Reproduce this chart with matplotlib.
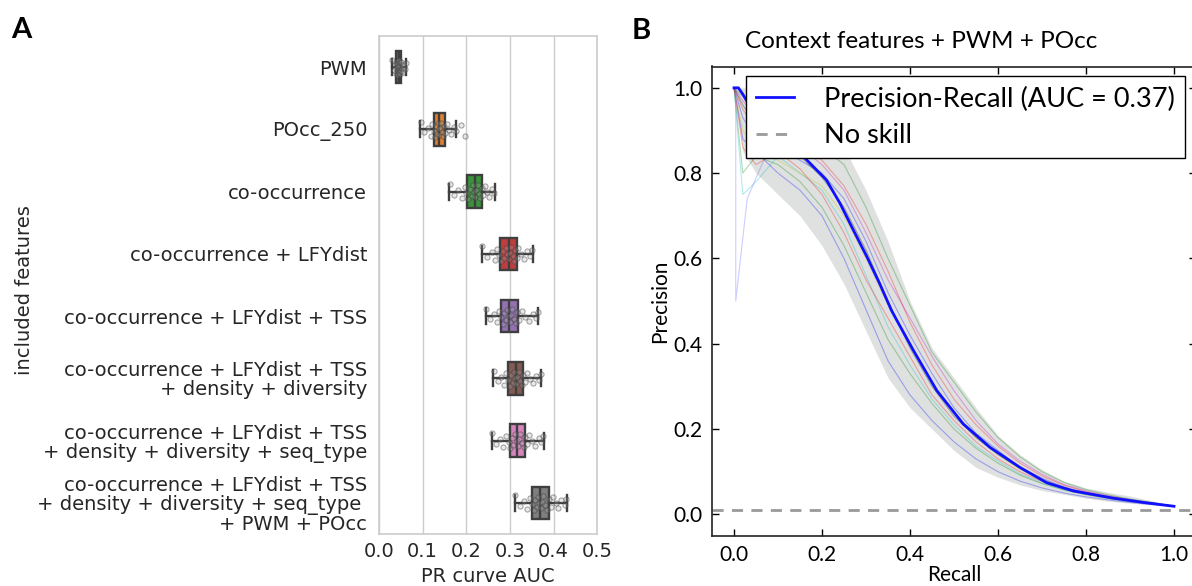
import matplotlib
matplotlib.use('Agg')
import matplotlib.pyplot as plt
import numpy as np

# ---- Panel A data: PR AUC per feature set ----
features = [
    'PWM',
    'POcc_250',
    'co-occurrence',
    'co-occurrence + LFYdist',
    'co-occurrence + LFYdist + TSS',
    'co-occurrence + LFYdist + TSS\n+ density + diversity',
    'co-occurrence + LFYdist + TSS\n+ density + diversity + seq_type',
    'co-occurrence + LFYdist + TSS\n+ density + diversity + seq_type \n+ PWM + POcc',
]
box_colors = ['#3274a1', '#e1812c', '#3a923a', '#c03d3e',
              '#9372b2', '#845b53', '#d684bd', '#7f7f7f']

whis_lo = [0.030, 0.095, 0.161, 0.236, 0.245, 0.262, 0.258, 0.311]
q1      = [0.038, 0.125, 0.202, 0.278, 0.280, 0.296, 0.301, 0.351]
median  = [0.045, 0.138, 0.219, 0.297, 0.298, 0.313, 0.317, 0.369]
q3      = [0.051, 0.151, 0.237, 0.315, 0.318, 0.330, 0.334, 0.390]
whis_hi = [0.062, 0.177, 0.265, 0.352, 0.365, 0.372, 0.377, 0.430]

auc_pwm = [0.030, 0.034, 0.036, 0.038, 0.039, 0.040, 0.041, 0.042, 0.043, 0.044, 0.044, 0.045,
           0.045, 0.046, 0.047, 0.048, 0.049, 0.050, 0.051, 0.052, 0.054, 0.056, 0.059, 0.062]
auc_pocc = [0.096, 0.104, 0.112, 0.118, 0.122, 0.125, 0.128, 0.130, 0.133, 0.135, 0.137, 0.138,
            0.140, 0.142, 0.144, 0.147, 0.149, 0.151, 0.155, 0.160, 0.166, 0.172, 0.177, 0.187, 0.197]
auc_cooc = [0.162, 0.172, 0.182, 0.190, 0.196, 0.200, 0.204, 0.208, 0.212, 0.215, 0.218, 0.220,
            0.222, 0.226, 0.229, 0.232, 0.235, 0.238, 0.242, 0.247, 0.252, 0.258, 0.264]
auc_lfy = [0.237, 0.248, 0.258, 0.265, 0.270, 0.275, 0.279, 0.283, 0.287, 0.291, 0.294, 0.297,
           0.300, 0.303, 0.306, 0.309, 0.312, 0.315, 0.319, 0.325, 0.332, 0.340, 0.346, 0.351]
auc_tss = [0.246, 0.255, 0.263, 0.270, 0.275, 0.279, 0.283, 0.287, 0.290, 0.294, 0.297, 0.299,
           0.302, 0.305, 0.309, 0.313, 0.317, 0.321, 0.327, 0.335, 0.343, 0.352, 0.360, 0.364]
auc_dens = [0.263, 0.272, 0.280, 0.286, 0.291, 0.295, 0.299, 0.302, 0.306, 0.309, 0.312, 0.314,
            0.317, 0.320, 0.323, 0.327, 0.330, 0.334, 0.339, 0.346, 0.353, 0.360, 0.367, 0.371]
auc_seq = [0.259, 0.268, 0.277, 0.285, 0.292, 0.297, 0.301, 0.305, 0.308, 0.311, 0.315, 0.318,
           0.321, 0.324, 0.327, 0.331, 0.334, 0.338, 0.344, 0.351, 0.358, 0.366, 0.372, 0.376]
auc_all = [0.312, 0.322, 0.331, 0.339, 0.345, 0.350, 0.354, 0.358, 0.361, 0.364, 0.367, 0.370,
           0.373, 0.376, 0.380, 0.384, 0.389, 0.393, 0.399, 0.405, 0.411, 0.418, 0.425, 0.429]
strip_values = [auc_pwm, auc_pocc, auc_cooc, auc_lfy, auc_tss, auc_dens, auc_seq, auc_all]

# vertical jitter pattern for the strip points
jitter = [-0.12, 0.05, -0.03, 0.10, -0.08, 0.02, 0.12, -0.05, 0.07, -0.10, 0.00, 0.09,
          -0.02, -0.11, 0.04, 0.11, -0.06, 0.06, -0.09, 0.01, 0.08, -0.04, 0.03, -0.07, 0.10]

# ---- Panel B data: precision-recall curves ----
mean_recall = [0.0, 0.01, 0.02, 0.033, 0.06, 0.10, 0.154, 0.21, 0.241, 0.271, 0.302, 0.331,
               0.358, 0.37, 0.408, 0.461, 0.521, 0.582, 0.65, 0.711, 0.771, 0.862, 0.93, 1.0]
mean_precision = [1.0, 1.0, 0.985, 0.962, 0.935, 0.895, 0.843, 0.784, 0.729, 0.667, 0.604, 0.541,
                  0.478, 0.455, 0.384, 0.29, 0.212, 0.157, 0.11, 0.074, 0.055, 0.038, 0.028, 0.019]

grid_recall = [0.0, 0.02, 0.05, 0.10, 0.15, 0.20, 0.25, 0.30, 0.35, 0.40, 0.45, 0.50,
               0.55, 0.60, 0.65, 0.70, 0.75, 0.80, 0.85, 0.90, 0.95, 1.0]
band_upper = [1.0, 1.0, 1.0, 0.95, 0.92, 0.89, 0.86, 0.76, 0.64, 0.50, 0.39, 0.32,
              0.25, 0.185, 0.14, 0.105, 0.078, 0.062, 0.052, 0.043, 0.032, 0.020]
band_lower = [1.0, 0.85, 0.80, 0.75, 0.70, 0.63, 0.54, 0.43, 0.32, 0.25, 0.20, 0.15,
              0.11, 0.087, 0.069, 0.056, 0.047, 0.038, 0.031, 0.026, 0.022, 0.018]

fold_curves = [
    [1.0, 0.93, 0.88, 0.86, 0.83, 0.80, 0.74, 0.64, 0.52, 0.42, 0.33, 0.25, 0.19, 0.15, 0.11, 0.085, 0.064, 0.051, 0.041, 0.033, 0.026, 0.019],
    [1.0, 0.80, 0.84, 0.82, 0.78, 0.72, 0.63, 0.52, 0.41, 0.33, 0.26, 0.20, 0.155, 0.12, 0.092, 0.072, 0.057, 0.046, 0.037, 0.030, 0.024, 0.019],
    [1.0, 0.95, 0.90, 0.90, 0.87, 0.83, 0.77, 0.68, 0.57, 0.45, 0.35, 0.27, 0.21, 0.16, 0.12, 0.09, 0.068, 0.053, 0.042, 0.034, 0.026, 0.019],
    [1.0, 0.75, 0.78, 0.84, 0.80, 0.76, 0.68, 0.56, 0.44, 0.35, 0.27, 0.21, 0.16, 0.125, 0.095, 0.074, 0.058, 0.047, 0.038, 0.031, 0.025, 0.019],
    [1.0, 0.97, 0.93, 0.88, 0.86, 0.82, 0.76, 0.66, 0.55, 0.46, 0.37, 0.29, 0.22, 0.165, 0.125, 0.094, 0.070, 0.055, 0.044, 0.035, 0.027, 0.019],
    [1.0, 0.90, 0.86, 0.83, 0.80, 0.77, 0.70, 0.60, 0.49, 0.40, 0.31, 0.24, 0.18, 0.14, 0.105, 0.08, 0.061, 0.049, 0.039, 0.032, 0.025, 0.019],
    [1.0, 0.96, 0.91, 0.87, 0.84, 0.79, 0.72, 0.62, 0.50, 0.39, 0.30, 0.23, 0.18, 0.14, 0.108, 0.082, 0.062, 0.050, 0.040, 0.032, 0.025, 0.019],
    [1.0, 0.88, 0.85, 0.80, 0.76, 0.70, 0.60, 0.48, 0.36, 0.28, 0.22, 0.17, 0.13, 0.10, 0.078, 0.062, 0.050, 0.041, 0.034, 0.028, 0.023, 0.019],
    [1.0, 0.98, 0.95, 0.92, 0.89, 0.86, 0.82, 0.72, 0.60, 0.49, 0.38, 0.31, 0.24, 0.18, 0.135, 0.10, 0.075, 0.058, 0.046, 0.036, 0.028, 0.019],
    [1.0, 0.86, 0.82, 0.85, 0.81, 0.75, 0.66, 0.55, 0.46, 0.37, 0.28, 0.22, 0.17, 0.13, 0.10, 0.077, 0.060, 0.048, 0.039, 0.031, 0.025, 0.019],
]
fold_colors = ['b', 'g', 'r', 'c', 'm', 'y', 'k', 'b', 'g', 'r']

spike_recall = [0.0, 0.004, 0.004, 0.03, 0.08]
spike_precision = [1.0, 1.0, 0.50, 0.74, 0.86]

no_skill = 0.01
auc_mean = 0.37

DARK = '#3f3f3f'
TXT = '#262626'
FONT_B = ['Lato', 'DejaVu Sans']

fig = plt.figure(figsize=(11.92, 5.86), dpi=100)
W, H = 1192.0, 586.0

# ---------------- Panel A ----------------
axA = fig.add_axes([379 / W, 1 - 534 / H, (597.3 - 379) / W, (534 - 36) / H])
positions = list(range(len(features)))
stats = []
for i in positions:
    stats.append(dict(whislo=whis_lo[i], q1=q1[i], med=median[i], q3=q3[i],
                      whishi=whis_hi[i], fliers=[]))
bp = axA.bxp(stats, positions=positions, vert=False, widths=0.52, patch_artist=True,
             showfliers=False, capwidths=0.26,
             boxprops=dict(edgecolor=DARK, linewidth=1.7),
             medianprops=dict(color=DARK, linewidth=1.7),
             whiskerprops=dict(color=DARK, linewidth=1.7),
             capprops=dict(color=DARK, linewidth=1.7))
for patch, c in zip(bp['boxes'], box_colors):
    patch.set_facecolor(c)

for i, vals in enumerate(strip_values):
    ys = [i + jitter[k % len(jitter)] for k in range(len(vals))]
    axA.scatter(vals, ys, s=14, facecolor=(0.65, 0.65, 0.65, 0.25),
                edgecolor=(0.25, 0.25, 0.25, 0.5), linewidth=0.7, zorder=5)

axA.set_xlim(0, 0.5)
axA.set_ylim(7.5, -0.5)
axA.set_xticks([0.0, 0.1, 0.2, 0.3, 0.4, 0.5])
axA.set_xticklabels(['0.0', '0.1', '0.2', '0.3', '0.4', '0.5'])
axA.set_yticks(positions)
axA.set_yticklabels(features)
for lab in axA.get_yticklabels():
    lab.set_linespacing(1.0)
axA.tick_params(axis='both', length=0, labelsize=14, colors=TXT, pad=8.5)
axA.tick_params(axis='x', pad=6)
axA.grid(axis='x', color='#cccccc', linewidth=1)
axA.set_axisbelow(True)
for sp in axA.spines.values():
    sp.set_color('#cccccc')
    sp.set_linewidth(1.2)
axA.set_xlabel('PR curve AUC', fontsize=14, color=TXT, labelpad=4)
fig.text(25 / W, 1 - 290 / H, 'included features', rotation=90, fontsize=14,
         color=TXT, ha='center', va='center')

# ---------------- Panel B ----------------
axB = fig.add_axes([712 / W, 1 - 535.7 / H, 484 / W, (535.7 - 66.5) / H])
axB.fill_between(grid_recall, band_lower, band_upper, color='#7f8a80', alpha=0.25,
                 linewidth=0)
for vals, c in zip(fold_curves, fold_colors):
    axB.plot(grid_recall, vals, color=c, linewidth=0.8, alpha=0.3)
axB.plot(spike_recall, spike_precision, color='#8080ff', linewidth=0.8, alpha=0.4)
axB.plot(mean_recall, mean_precision, color='#1010ff', linewidth=2.0,
         label=f'Precision-Recall (AUC = {auc_mean:.2f})', zorder=5)
axB.axhline(no_skill, color='#999999', linestyle='--', linewidth=2, dashes=(4, 3),
            label='No skill')

axB.set_xlim(-0.05, 1.05)
axB.set_ylim(-0.05, 1.05)
axB.set_xticks([0.0, 0.2, 0.4, 0.6, 0.8, 1.0])
axB.set_yticks([0.0, 0.2, 0.4, 0.6, 0.8, 1.0])
axB.tick_params(direction='in', top=True, right=True, length=5, width=1, labelsize=15,
                pad=7)
for lab in axB.get_xticklabels() + axB.get_yticklabels():
    lab.set_family(FONT_B)
for sp in axB.spines.values():
    sp.set_color('#222222')
    sp.set_linewidth(1.2)
axB.set_xlabel('Recall', fontsize=15, family=FONT_B, labelpad=0)
axB.set_ylabel('Precision', fontsize=15, family=FONT_B, labelpad=2)
axB.set_title('Context features + PWM + POcc', fontsize=17.5, family=FONT_B, pad=13,
              x=(921 - 712) / 484)

leg = axB.legend(loc='upper right', bbox_to_anchor=(0.977, 0.979), borderaxespad=0,
                 prop=dict(family=FONT_B, size=19.5), handlelength=1.4, handletextpad=1.1,
                 labelspacing=0.42, borderpad=0.38, fancybox=False, framealpha=1)
leg.get_frame().set_edgecolor('black')
leg.get_frame().set_linewidth(1.0)

# panel letters
fig.text(21 / W, 1 - 30 / H, 'A', fontsize=21, fontweight='bold', family=FONT_B,
         ha='center', va='center')
fig.text(641 / W, 1 - 31 / H, 'B', fontsize=21, fontweight='bold', family=FONT_B,
         ha='center', va='center')

plt.savefig('out.png', dpi=100, facecolor='white')
plt.close()
